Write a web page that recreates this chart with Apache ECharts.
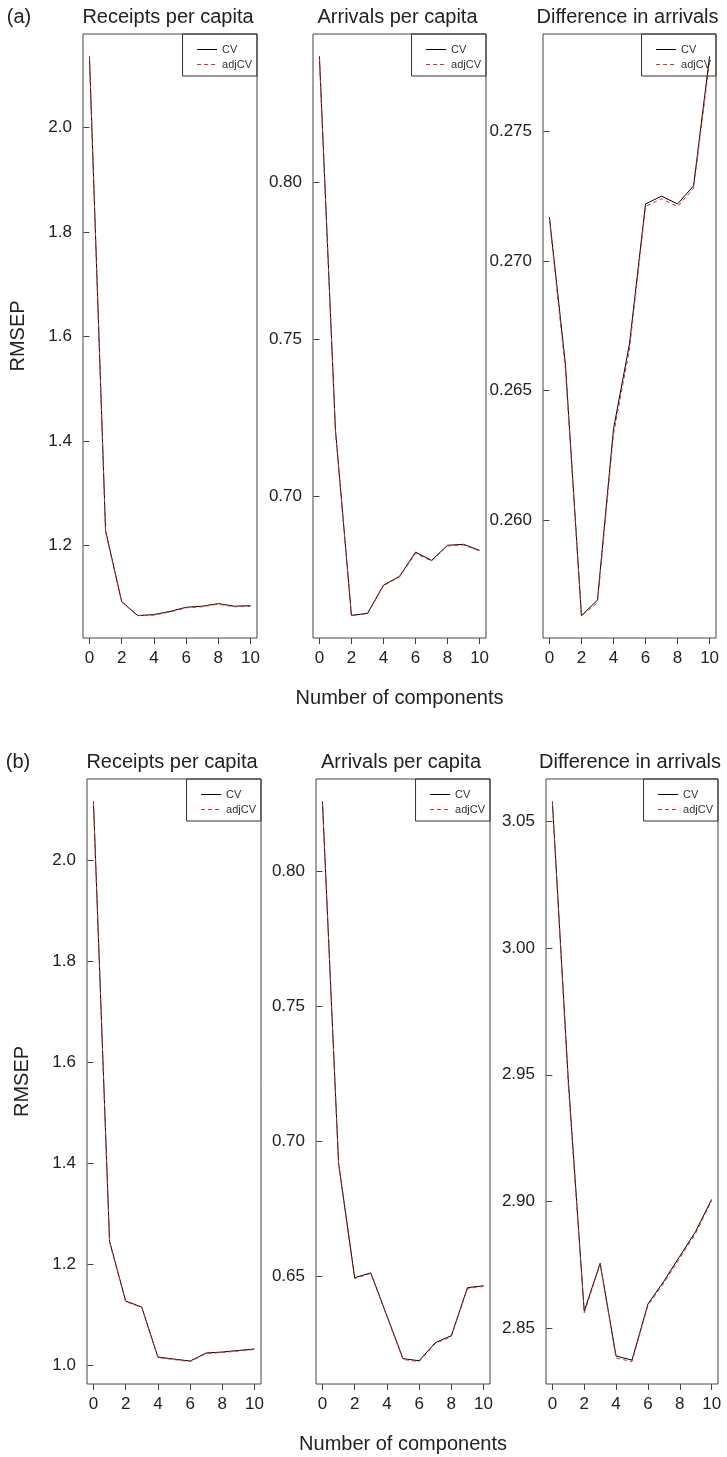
<!DOCTYPE html>
<html lang="en">
<head>
<meta charset="UTF-8">
<title>RMSEP</title>
<script src="https://cdn.jsdelivr.net/npm/echarts@6.0.0/dist/echarts.min.js"></script>
<style>html,body{margin:0;padding:0;background:#fff;}</style>
</head>
<body>
<div id="main" style="width:727px;height:1457px;"></div>
<script>
// x axis: number of components
const components = [0, 1, 2, 3, 4, 5, 6, 7, 8, 9, 10];
const xTicks = [0, 2, 4, 6, 8, 10];
const panelTitles = ['Receipts per capita', 'Arrivals per capita', 'Difference in arrivals'];

// (a)
const aReceiptsCV  = [2.136, 1.229, 1.093, 1.066, 1.068, 1.074, 1.082, 1.084, 1.089, 1.084, 1.085];
const aReceiptsAdj = [2.134, 1.226, 1.092, 1.066, 1.067, 1.073, 1.081, 1.083, 1.088, 1.083, 1.084];
const aArrivalsCV  = [0.8401, 0.7213, 0.6621, 0.6627, 0.6717, 0.6745, 0.6822, 0.6796, 0.6844, 0.6847, 0.6828];
const aArrivalsAdj = [0.8395, 0.7208, 0.6620, 0.6626, 0.6715, 0.6743, 0.6818, 0.6794, 0.6842, 0.6845, 0.6826];
const aDiffCV      = [0.2717, 0.2660, 0.2563, 0.2569, 0.2635, 0.2668, 0.2722, 0.2725, 0.2722, 0.2729, 0.2779];
const aDiffAdj     = [0.2716, 0.2658, 0.2563, 0.2568, 0.2633, 0.2666, 0.2721, 0.2724, 0.2721, 0.2728, 0.2777];

// (b)
const bReceiptsCV  = [2.117, 1.2455, 1.127, 1.115, 1.016, 1.012, 1.008, 1.024, 1.026, 1.029, 1.032];
const bReceiptsAdj = [2.115, 1.244, 1.126, 1.114, 1.015, 1.011, 1.007, 1.023, 1.025, 1.028, 1.031];
const bArrivalsCV  = [0.8259, 0.692, 0.6493, 0.6511, 0.6352, 0.6193, 0.6185, 0.6252, 0.6278, 0.6456, 0.6463];
const bArrivalsAdj = [0.8254, 0.6915, 0.6490, 0.6509, 0.6349, 0.6190, 0.6182, 0.6249, 0.6275, 0.6453, 0.6461];
const bDiffCV      = [3.0579, 2.948, 2.8567, 2.8756, 2.8390, 2.8374, 2.8595, 2.8685, 2.8784, 2.8882, 2.9008];
const bDiffAdj     = [3.0575, 2.946, 2.8560, 2.8752, 2.8382, 2.8368, 2.8590, 2.8678, 2.8776, 2.8875, 2.9003];

// y tick labels
const aReceiptsTicks = [1.2, 1.4, 1.6, 1.8, 2.0];
const aArrivalsTicks = [0.70, 0.75, 0.80];
const aDiffTicks     = [0.260, 0.265, 0.270, 0.275];
const bReceiptsTicks = [1.0, 1.2, 1.4, 1.6, 1.8, 2.0];
const bArrivalsTicks = [0.65, 0.70, 0.75, 0.80];
const bDiffTicks     = [2.85, 2.90, 2.95, 3.00, 3.05];

const font = '"Liberation Sans", Arial, sans-serif';
const W = 727;

// plot boxes (left, top, width, height)
const panels = [
    {box: [83, 34, 174, 604],  cv: aReceiptsCV, adj: aReceiptsAdj, ticks: aReceiptsTicks, dec: 1, title: 0},
    {box: [313, 34, 173, 604], cv: aArrivalsCV, adj: aArrivalsAdj, ticks: aArrivalsTicks, dec: 2, title: 1},
    {box: [543, 34, 173, 604], cv: aDiffCV,     adj: aDiffAdj,     ticks: aDiffTicks,     dec: 3, title: 2},
    {box: [87, 779, 174, 605],  cv: bReceiptsCV, adj: bReceiptsAdj, ticks: bReceiptsTicks, dec: 1, title: 0},
    {box: [316, 779, 174, 605], cv: bArrivalsCV, adj: bArrivalsAdj, ticks: bArrivalsTicks, dec: 2, title: 1},
    {box: [546, 779, 172, 605], cv: bDiffCV,     adj: bDiffAdj,     ticks: bDiffTicks,     dec: 2, title: 2}
];

function pairs(ys) {
    return components.map(function (c, i) { return [c, ys[i]]; });
}

const grid = [], xAxis = [], yAxis = [], series = [], legend = [], graphic = [];

panels.forEach(function (p, i) {
    const b = p.box;
    // R style 4% padding on the data range
    const all = p.cv.concat(p.adj);
    const lo = Math.min.apply(null, all), hi = Math.max.apply(null, all);
    const pad = (hi - lo) * 0.04;

    grid.push({
        left: b[0], top: b[1], width: b[2], height: b[3],
        show: true, borderColor: '#444', borderWidth: 1,
        backgroundColor: 'transparent', outerBoundsMode: 'none'
    });

    xAxis.push({
        type: 'value', gridIndex: i, min: -0.4, max: 10.4,
        axisLine: {show: false},
        splitLine: {show: false},
        axisTick: {show: true, length: 6, inside: false, customValues: xTicks, lineStyle: {color: '#444'}},
        axisLabel: {customValues: xTicks, margin: 12, fontSize: 17, color: '#222', fontFamily: font},
        name: (i === 1 || i === 4) ? 'Number of components' : '',
        nameLocation: 'middle', nameGap: 50,
        nameTextStyle: {fontSize: 20, color: '#222', fontFamily: font}
    });

    yAxis.push({
        type: 'value', gridIndex: i, min: lo - pad, max: hi + pad,
        axisLine: {show: false},
        splitLine: {show: false},
        axisTick: {show: true, length: 6, inside: false, customValues: p.ticks, lineStyle: {color: '#444'}},
        axisLabel: {
            customValues: p.ticks, margin: 11, fontSize: 17, color: '#222', fontFamily: font,
            formatter: (function (d) { return function (v) { return v.toFixed(d); }; })(p.dec)
        },
        name: (i === 0 || i === 3) ? 'RMSEP' : '',
        nameLocation: 'middle', nameRotate: 90, nameGap: 55,
        nameTextStyle: {fontSize: 20, color: '#222', fontFamily: font}
    });

    series.push({
        name: 'CV', type: 'line', xAxisIndex: i, yAxisIndex: i,
        symbol: 'none', silent: true, animation: false,
        lineStyle: {color: '#000', width: 1, type: 'solid'},
        itemStyle: {color: '#000'},
        data: pairs(p.cv)
    });
    series.push({
        name: 'adjCV', type: 'line', xAxisIndex: i, yAxisIndex: i,
        symbol: 'none', silent: true, animation: false,
        lineStyle: {color: '#d03030', width: 1, type: [4, 3]},
        itemStyle: {color: '#d03030'},
        data: pairs(p.adj)
    });

    legend.push({
        data: ['CV', 'adjCV'], orient: 'vertical',
        right: W - (b[0] + b[2]), top: b[1],
        borderColor: '#333', borderWidth: 1, borderRadius: 0,
        padding: [10, 5, 6, 14], itemWidth: 20, itemHeight: 10, itemGap: 4,
        z: 1, selectedMode: false,
        itemStyle: {opacity: 0, borderWidth: 0},
        lineStyle: {width: 1},
        textStyle: {fontSize: 11, color: '#333', fontFamily: font}
    });

    graphic.push({
        type: 'text', x: b[0] + b[2] / 2 - 2, y: b[1] - 17,
        style: {text: panelTitles[p.title], fontSize: 20, fill: '#222', fontFamily: font,
                textAlign: 'center', textVerticalAlign: 'middle'}
    });
});

graphic.push({type: 'text', x: 19, y: 17,
    style: {text: '(a)', fontSize: 20, fill: '#222', fontFamily: font, textAlign: 'center', textVerticalAlign: 'middle'}});
graphic.push({type: 'text', x: 18, y: 762,
    style: {text: '(b)', fontSize: 20, fill: '#222', fontFamily: font, textAlign: 'center', textVerticalAlign: 'middle'}});

const myChart = echarts.init(document.getElementById('main'));
myChart.setOption({
    animation: false,
    backgroundColor: '#fff',
    grid: grid,
    xAxis: xAxis,
    yAxis: yAxis,
    legend: legend,
    graphic: graphic,
    series: series
});
</script>
</body>
</html>
